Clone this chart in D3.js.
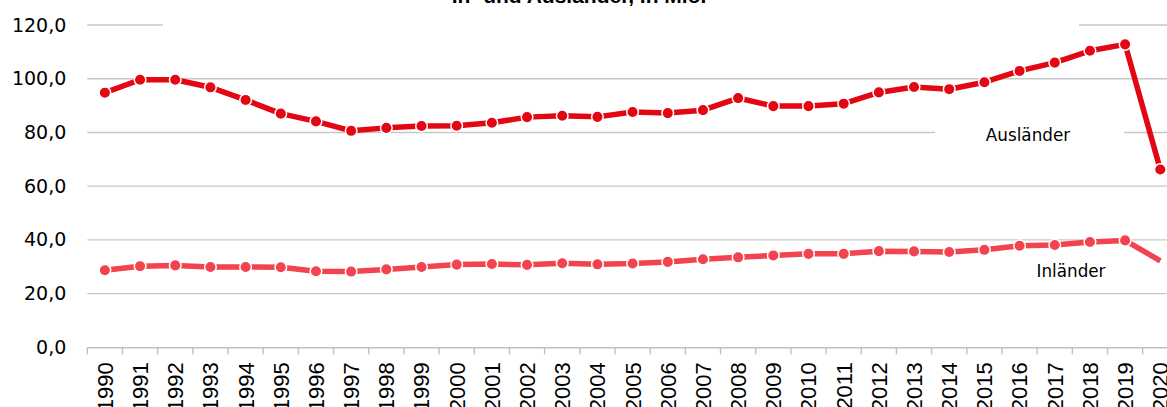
<!DOCTYPE html>
<html>
<head>
<meta charset="utf-8">
<script src="https://cdn.jsdelivr.net/npm/d3@7"></script>
<style>
  body { margin: 0; background: #fff; }
  svg { display: block; }
</style>
</head>
<body>
<div id="chart"></div>
<script>
// Data
const years = ["1990","1991","1992","1993","1994","1995","1996","1997","1998","1999",
  "2000","2001","2002","2003","2004","2005","2006","2007","2008","2009",
  "2010","2011","2012","2013","2014","2015","2016","2017","2018","2019","2020"];
const auslaender = [94.8, 99.6, 99.6, 96.8, 92.1, 87.0, 84.1, 80.6, 81.7, 82.4,
  82.5, 83.6, 85.7, 86.2, 85.8, 87.6, 87.2, 88.3, 92.8, 89.8,
  89.8, 90.7, 94.9, 96.9, 96.1, 98.7, 102.9, 106.0, 110.4, 112.8, 66.2];
const inlaender = [28.7, 30.2, 30.5, 29.9, 29.9, 29.8, 28.3, 28.2, 29.0, 29.9,
  30.8, 31.0, 30.7, 31.3, 30.9, 31.2, 31.8, 32.8, 33.5, 34.2,
  34.8, 34.8, 35.8, 35.7, 35.5, 36.3, 37.8, 38.1, 39.2, 39.8, 32.2];
const yTicks = [0, 20, 40, 60, 80, 100, 120];
const titleText = "In- und Ausländer, in Mio.";

// Chart setup
const W = 1167, H = 407;
const plot = { left: 87.3, top: 25, bottom: 347.3, step: 35.18 };

const svg = d3.select("#chart")
    .append("svg")
    .attr("width", W)
    .attr("height", H);

const x = d3.scaleBand()
    .domain(years)
    .range([plot.left, plot.left + years.length * plot.step])
    .padding(0);

const y = d3.scaleLinear()
    .domain([0, 120])
    .range([plot.bottom, plot.top]);

const cx = d => x(d) + x.bandwidth() / 2;

// Gridlines
svg.append("g")
    .selectAll("line")
    .data(yTicks.filter(t => t > 0))
    .enter()
    .append("line")
    .attr("x1", plot.left)
    .attr("x2", x.range()[1])
    .attr("y1", d => y(d))
    .attr("y2", d => y(d))
    .attr("stroke", "#c8c8c8")
    .attr("stroke-width", 1.4);

// Y axis labels
const yAxis = svg.append("g")
    .attr("transform", `translate(${plot.left},0)`)
    .call(d3.axisLeft(y)
        .tickValues(yTicks)
        .tickSize(0)
        .tickPadding(21)
        .tickFormat(d => d3.format(".1f")(d).replace(".", ",")));
yAxis.select(".domain").remove();
yAxis.selectAll("text")
    .attr("fill", "#000")
    .style("font-family", "'DejaVu Sans', Verdana, sans-serif")
    .style("font-size", "19px");

// X axis
const xAxis = svg.append("g")
    .attr("transform", `translate(0,${plot.bottom})`)
    .call(d3.axisBottom(x).tickSize(0).tickSizeOuter(0));
xAxis.select(".domain")
    .attr("stroke", "#c0c0c0")
    .attr("stroke-width", 1.4);
xAxis.selectAll("text")
    .attr("transform", "rotate(-90)")
    .attr("x", -15)
    .attr("y", 0)
    .attr("dy", "0.36em")
    .style("text-anchor", "end")
    .attr("fill", "#000")
    .style("font-family", "'Liberation Sans', Arial, sans-serif")
    .style("font-size", "22px");

// Category boundary ticks
svg.append("g")
    .selectAll("line")
    .data(years.map(d => x(d)).concat([x.range()[1]]))
    .enter()
    .append("line")
    .attr("x1", d => d)
    .attr("x2", d => d)
    .attr("y1", plot.bottom)
    .attr("y2", plot.bottom + 7)
    .attr("stroke", "#c0c0c0")
    .attr("stroke-width", 1.4);

// White boxes behind title and data label (hide gridlines like the original)
svg.append("rect")
    .attr("x", 163).attr("y", -40)
    .attr("width", 916).attr("height", 68)
    .attr("fill", "#fff");
svg.append("rect")
    .attr("x", 935).attr("y", 116)
    .attr("width", 189).attr("height", 34)
    .attr("fill", "#fff");

// Title (clipped at top)
svg.append("text")
    .attr("x", 579)
    .attr("y", 3)
    .attr("text-anchor", "middle")
    .attr("fill", "#000")
    .style("font-family", "'Liberation Sans', Arial, sans-serif")
    .style("font-weight", "bold")
    .style("font-size", "21px")
    .text(titleText);

// Lines and markers
const line = d3.line()
    .x((d, i) => cx(years[i]))
    .y(d => y(d));

function drawSeries(values, color, markerCount) {
    svg.append("path")
        .datum(values)
        .attr("fill", "none")
        .attr("stroke", color)
        .attr("stroke-width", 5.5)
        .attr("stroke-linejoin", "round")
        .attr("d", line);
    svg.append("g")
        .selectAll("circle")
        .data(values.slice(0, markerCount))
        .enter()
        .append("circle")
        .attr("cx", (d, i) => cx(years[i]))
        .attr("cy", d => y(d))
        .attr("r", 5.8)
        .attr("fill", color)
        .attr("stroke", "#fff")
        .attr("stroke-width", 1.5);
}

drawSeries(inlaender, "#f2434f", inlaender.length - 1);
drawSeries(auslaender, "#e30613", auslaender.length);

// Series labels
svg.append("text")
    .attr("x", 1028).attr("y", 141)
    .attr("text-anchor", "middle")
    .attr("fill", "#000")
    .style("font-family", "'DejaVu Sans', Verdana, sans-serif")
    .style("font-size", "16.8px")
    .text("Ausländer");
svg.append("text")
    .attr("x", 1071).attr("y", 277)
    .attr("text-anchor", "middle")
    .attr("fill", "#000")
    .style("font-family", "'DejaVu Sans', Verdana, sans-serif")
    .style("font-size", "16.8px")
    .text("Inländer");
</script>
</body>
</html>
